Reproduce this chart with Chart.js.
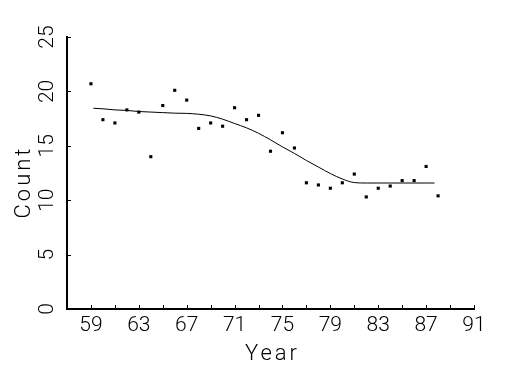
<!DOCTYPE html>
<html>
<head>
<meta charset="utf-8">
<script src="https://cdn.jsdelivr.net/npm/chart.js@4"></script>
<style>
html,body{margin:0;padding:0;background:#fff;}
canvas{display:block;}
</style>
</head>
<body>
<canvas id="c" width="525" height="375"></canvas>
<script>
const years = [59,60,61,62,63,64,65,66,67,68,69,70,71,72,73,74,75,76,77,78,79,80,81,82,83,84,85,86,87,88];
const counts = [20.7,17.4,17.1,18.3,18.1,14.0,18.7,20.1,19.2,16.6,17.1,16.8,18.5,17.4,17.8,14.5,16.2,14.8,11.6,11.4,11.1,11.6,12.4,10.3,11.1,11.3,11.8,11.8,13.1,10.4];
const fitYears = [59.2,60,61,62,63,64,65,66,67,68,69,70,71,72,73,74,75,76,77,78,79,80,81,82,83,84,85,86,87,87.7];
const fitValues = [18.45,18.4,18.3,18.25,18.15,18.1,18.05,18.0,17.98,17.9,17.75,17.45,17.05,16.65,16.15,15.55,14.9,14.3,13.65,13.05,12.45,11.95,11.62,11.58,11.58,11.58,11.58,11.58,11.58,11.58];
const xTickLabels = [59,63,67,71,75,79,83,87,91];
const yTickLabels = [0,5,10,15,20,25];
const xTitle = 'Year';
const yTitle = 'Count';

const FONT_FAMILY = 'Roboto, "Liberation Sans", sans-serif';
const tickFont = {family: FONT_FAMILY, size: 21, weight: '300'};

const innerTicks = {
  id: 'innerTicks',
  afterDraw(chart) {
    const ctx = chart.ctx;
    const a = chart.chartArea;
    const xs = chart.scales.x, ys = chart.scales.y;
    ctx.save();
    ctx.strokeStyle = '#000';
    ctx.lineWidth = 1;
    ctx.beginPath();
    xs.ticks.forEach(t => {
      const px = Math.round(xs.getPixelForValue(t.value)) + 0.5;
      ctx.moveTo(px, a.bottom);
      ctx.lineTo(px, a.bottom - 4);
    });
    ys.ticks.forEach(t => {
      const py = Math.round(ys.getPixelForValue(t.value)) + 0.5;
      ctx.moveTo(a.left, py);
      ctx.lineTo(a.left + 4, py);
    });
    ctx.stroke();
    // axis titles
    ctx.fillStyle = '#000';
    ctx.font = '300 22px ' + FONT_FAMILY;
    ctx.textAlign = 'center';
    ctx.textBaseline = 'middle';
    ctx.letterSpacing = '3px';
    ctx.fillText(xTitle, (a.left + a.right) / 2 + 2, 354);
    ctx.save();
    ctx.translate(24, 183);
    ctx.rotate(-Math.PI / 2);
    ctx.fillText(yTitle, 1, 0);
    ctx.restore();
    ctx.restore();
  }
};

new Chart(document.getElementById('c'), {
  type: 'scatter',
  data: {
    datasets: [
      {
        type: 'line',
        data: fitYears.map((y, i) => ({x: y, y: fitValues[i]})),
        borderColor: '#000',
        borderWidth: 1,
        pointRadius: 0,
        fill: false,
        cubicInterpolationMode: 'monotone'
      },
      {
        data: years.map((y, i) => ({x: y, y: counts[i]})),
        pointStyle: 'rect',
        pointRadius: 2.2,
        backgroundColor: '#000',
        borderColor: '#000',
        borderWidth: 0
      }
    ]
  },
  options: {
    responsive: false,
    animation: false,
    events: [],
    layout: {padding: {left: 0, right: 51, top: 37, bottom: 0}},
    plugins: {legend: {display: false}, tooltip: {enabled: false}},
    scales: {
      x: {
        type: 'linear', min: 57, max: 91,
        afterBuildTicks(s) {
          const t = [];
          for (let v = 57; v <= 91; v += 2) t.push({value: v});
          s.ticks = t;
        },
        ticks: {
          autoSkip: false, maxRotation: 0, padding: 4, color: '#000', font: tickFont,
          callback: v => xTickLabels.includes(v) ? String(v) : ''
        },
        grid: {display: false, drawTicks: false},
        border: {display: true, color: '#000', width: 2},
        afterFit(s) { s.height = 66; }
      },
      y: {
        min: 0, max: 25,
        afterBuildTicks(s) { s.ticks = yTickLabels.map(v => ({value: v})); },
        ticks: {
          minRotation: 90, maxRotation: 90, crossAlign: 'center', padding: 8, color: '#000', font: tickFont,
          callback: v => String(v)
        },
        grid: {display: false, drawTicks: false},
        border: {display: true, color: '#000', width: 2},
        afterFit(s) { s.width = 67; }
      }
    }
  },
  plugins: [innerTicks]
});
</script>
</body>
</html>
